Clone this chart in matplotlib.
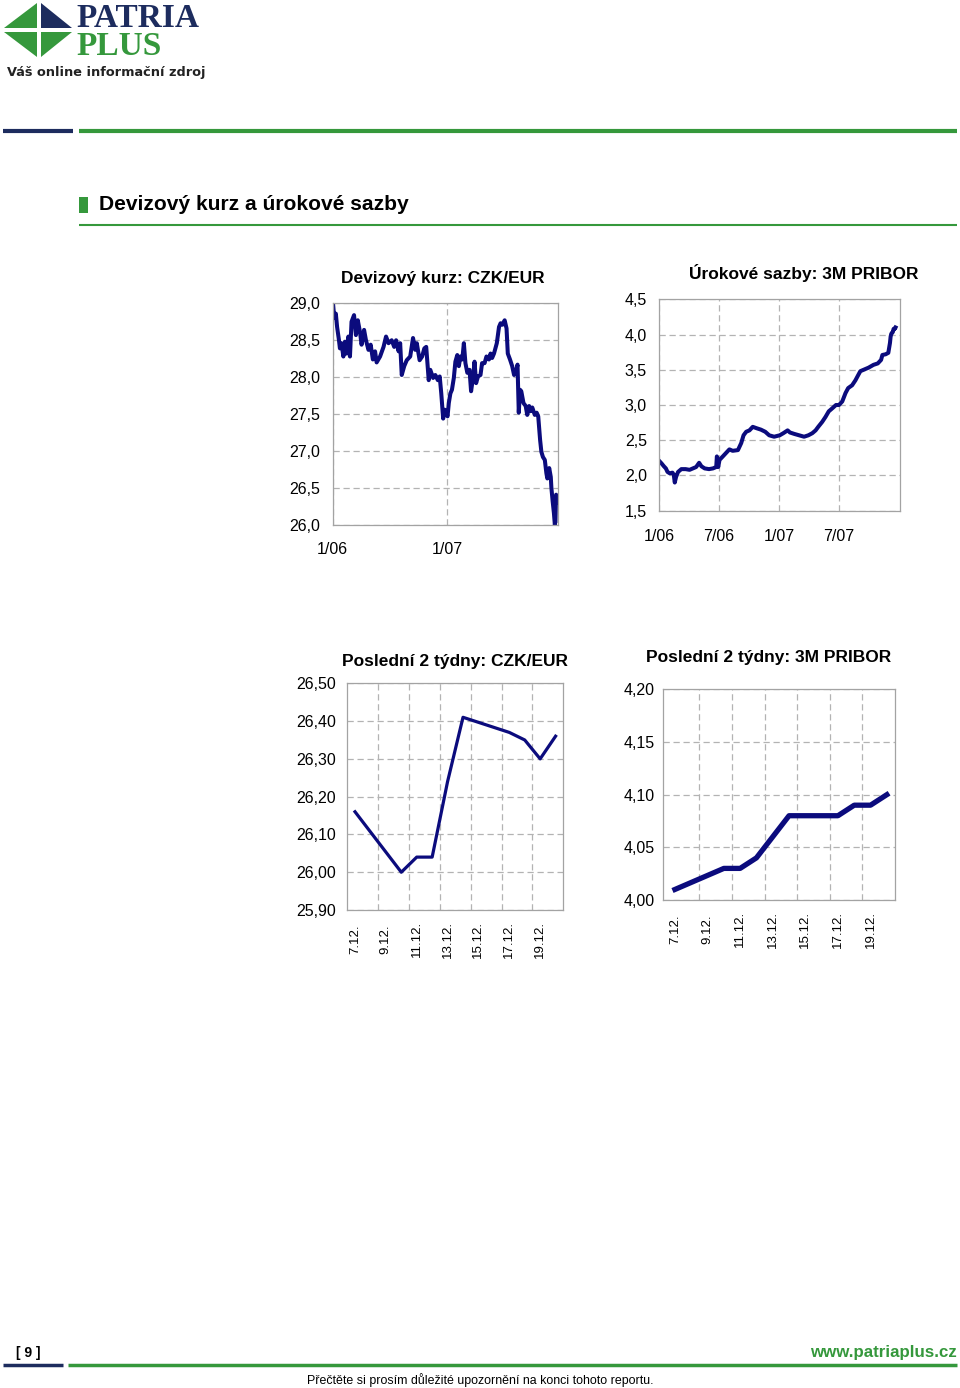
import matplotlib
matplotlib.use('Agg')
import matplotlib.pyplot as plt
from matplotlib.patches import Polygon, Rectangle
from matplotlib.ticker import MultipleLocator, FixedLocator, FuncFormatter
import numpy as np
import pandas as pd

# --- data ---
czk_dates = ['2006-01-02', '2006-01-06', '2006-01-11', '2006-01-15', '2006-01-21', '2006-01-24',
             '2006-01-29', '2006-02-04', '2006-02-09', '2006-02-14', '2006-02-20', '2006-02-25',
             '2006-03-02', '2006-03-10', '2006-03-16', '2006-03-22', '2006-03-29', '2006-04-03',
             '2006-04-11', '2006-04-17', '2006-04-25', '2006-05-02', '2006-05-09', '2006-05-16',
             '2006-05-21', '2006-06-01', '2006-06-12', '2006-06-20', '2006-06-28', '2006-07-08',
             '2006-07-16', '2006-07-22', '2006-07-30', '2006-08-04', '2006-08-09', '2006-08-17',
             '2006-08-25', '2006-09-05', '2006-09-14', '2006-09-21', '2006-09-26', '2006-10-05',
             '2006-10-13', '2006-10-20', '2006-10-26', '2006-11-03', '2006-11-08', '2006-11-17',
             '2006-11-24', '2006-12-02', '2006-12-08', '2006-12-13', '2006-12-19', '2006-12-24',
             '2007-01-02', '2007-01-06', '2007-01-11', '2007-01-16', '2007-01-22', '2007-01-27',
             '2007-02-02', '2007-02-07', '2007-02-12', '2007-02-18', '2007-02-23', '2007-02-28',
             '2007-03-06', '2007-03-13', '2007-03-18', '2007-03-24', '2007-03-29', '2007-04-03',
             '2007-04-09', '2007-04-17', '2007-04-22', '2007-04-30', '2007-05-06', '2007-05-14',
             '2007-05-19', '2007-05-24', '2007-05-30', '2007-06-08', '2007-06-15', '2007-06-20',
             '2007-06-26', '2007-07-03', '2007-07-09', '2007-07-13', '2007-07-20', '2007-07-27',
             '2007-08-02', '2007-08-07', '2007-08-13', '2007-08-17', '2007-08-21', '2007-08-25',
             '2007-09-01', '2007-09-08', '2007-09-13', '2007-09-19', '2007-09-24', '2007-09-29',
             '2007-10-07', '2007-10-13', '2007-10-18', '2007-10-24', '2007-10-28', '2007-11-02',
             '2007-11-08', '2007-11-13', '2007-11-16', '2007-11-22', '2007-11-27', '2007-11-29',
             '2007-12-03']
czk_vals = [29.00, 28.80, 28.86, 28.68, 28.50, 28.39,
            28.46, 28.28, 28.48, 28.32, 28.55, 28.28,
            28.75, 28.84, 28.57, 28.77, 28.61, 28.44,
            28.64, 28.50, 28.37, 28.44, 28.24, 28.35,
            28.20, 28.28, 28.41, 28.55, 28.46, 28.50,
            28.41, 28.50, 28.35, 28.46, 28.03, 28.15,
            28.23, 28.28, 28.53, 28.37, 28.46, 28.23,
            28.28, 28.39, 28.41, 27.96, 28.10, 27.99,
            28.03, 27.96, 28.01, 27.78, 27.44, 27.56,
            27.47, 27.65, 27.78, 27.83, 27.99, 28.21,
            28.30, 28.15, 28.28, 28.24, 28.46, 28.19,
            28.06, 28.10, 27.81, 27.99, 28.21, 27.92,
            28.01, 28.03, 28.19, 28.19, 28.28, 28.24,
            28.32, 28.26, 28.32, 28.46, 28.68, 28.73,
            28.71, 28.77, 28.66, 28.32, 28.24, 28.15,
            28.03, 28.06, 28.17, 27.52, 27.83, 27.81,
            27.65, 27.61, 27.49, 27.61, 27.54, 27.59,
            27.49, 27.52, 27.47, 27.15, 26.99, 26.92,
            26.88, 26.70, 26.63, 26.77, 26.65, 26.50,
            26.32]

pribor_dates = ['2006-01-02', '2006-01-08', '2006-01-15', '2006-01-21', '2006-01-26', '2006-02-02',
                '2006-02-10', '2006-02-14', '2006-02-17', '2006-02-21', '2006-02-27', '2006-03-09',
                '2006-03-22', '2006-04-03', '2006-04-13', '2006-04-23', '2006-05-02', '2006-05-09',
                '2006-05-19', '2006-06-01', '2006-06-13', '2006-06-23', '2006-06-25', '2006-06-29',
                '2006-07-03', '2006-07-13', '2006-07-23', '2006-08-02', '2006-08-12', '2006-08-28',
                '2006-09-07', '2006-09-14', '2006-09-22', '2006-10-02', '2006-10-12', '2006-10-24',
                '2006-11-06', '2006-11-19', '2006-12-01', '2006-12-16', '2007-01-02', '2007-01-13',
                '2007-01-26', '2007-02-02', '2007-02-15', '2007-03-02', '2007-03-17', '2007-03-30',
                '2007-04-11', '2007-04-21', '2007-04-29', '2007-05-11', '2007-05-21', '2007-05-31',
                '2007-06-10', '2007-06-22', '2007-07-01', '2007-07-11', '2007-07-21', '2007-07-29',
                '2007-08-10', '2007-08-20', '2007-08-28', '2007-09-04', '2007-09-14', '2007-09-29',
                '2007-10-14', '2007-10-27', '2007-11-06', '2007-11-10', '2007-11-20', '2007-11-28',
                '2007-12-03', '2007-12-05']
pribor_vals = [2.20, 2.17, 2.13, 2.10, 2.05, 2.03,
               2.04, 2.01, 1.90, 1.98, 2.05, 2.09,
               2.09, 2.08, 2.10, 2.12, 2.18, 2.13,
               2.10, 2.09, 2.10, 2.12, 2.27, 2.12,
               2.22, 2.27, 2.32, 2.37, 2.35, 2.36,
               2.46, 2.57, 2.62, 2.64, 2.69, 2.67,
               2.65, 2.62, 2.57, 2.55, 2.57, 2.60,
               2.64, 2.61, 2.59, 2.57, 2.55, 2.57,
               2.60, 2.64, 2.69, 2.76, 2.83, 2.91,
               2.95, 3.00, 3.00, 3.05, 3.17, 3.24,
               3.28, 3.35, 3.42, 3.48, 3.50, 3.53,
               3.57, 3.59, 3.64, 3.71, 3.72, 3.74,
               3.88, 3.97]

# last two weeks (December 2007)
tw_days = [7, 10, 11, 12, 13, 14, 17, 18, 19, 20]
tw_czk = [26.16, 26.00, 26.04, 26.04, 26.24, 26.41, 26.37, 26.35, 26.30, 26.36]
tw_pribor = [4.01, 4.03, 4.03, 4.04, 4.06, 4.08, 4.08, 4.09, 4.09, 4.10]
tw_tick_days = [7, 9, 11, 13, 15, 17, 19]
tw_tick_labels = ['7.12.', '9.12.', '11.12.', '13.12.', '15.12.', '17.12.', '19.12.']

long_ticks_czk = ['2006-01-01', '2007-01-01']
long_labels_czk = ['1/06', '1/07']
long_ticks_pribor = ['2006-01-01', '2006-07-01', '2007-01-01', '2007-07-01']
long_labels_pribor = ['1/06', '7/06', '1/07', '7/07']

# --- styling ---
NAVY = '#1d2c5e'
GREEN = '#35983c'
LINE = '#0b0b7d'
GRID = '#b3b3b3'
SPINE = '#a3a3a3'

plt.rcParams['font.family'] = ['Liberation Sans', 'DejaVu Sans']
W, H = 960, 1388
fig = plt.figure(figsize=(9.6, 13.88), dpi=100)


def box(x0, y0, x1, y1):
    return [x0 / W, 1 - y1 / H, (x1 - x0) / W, (y1 - y0) / H]


def comma(fmt):
    return FuncFormatter(lambda v, _: format(v, fmt).replace('.', ','))


# page decoration in pixel coordinates
bg = fig.add_axes([0, 0, 1, 1])
bg.set_xlim(0, W)
bg.set_ylim(H, 0)
bg.axis('off')

# logo star
for pts, col in [([(37, 3), (37, 28), (4, 28)], GREEN),
                 ([(41, 3), (41, 28), (72, 28)], NAVY),
                 ([(37, 32), (4, 32), (37, 57)], GREEN),
                 ([(41, 32), (72, 32), (41, 57)], GREEN)]:
    bg.add_patch(Polygon(pts, closed=True, color=col, lw=0))
bg.text(76, 27, 'PATRIA', family='Liberation Serif', fontsize=24, fontweight='bold',
        color=NAVY, va='baseline')
bg.text(76, 55, 'PLUS', family='Liberation Serif', fontsize=24, fontweight='bold',
        color=GREEN, va='baseline')
bg.text(7, 76, 'Váš online informační zdroj', family='DejaVu Sans', fontsize=9.3,
        fontweight='bold', color='#222222', va='baseline')

bg.plot([3, 73], [131, 131], color=NAVY, lw=3, solid_capstyle='butt')
bg.plot([79, 957], [131, 131], color=GREEN, lw=3, solid_capstyle='butt')

# section header
bg.add_patch(Rectangle((79, 197), 9, 16, color=GREEN, lw=0))
bg.text(99, 209.5, 'Devizový kurz a úrokové sazby', fontsize=15.1, fontweight='bold', va='baseline')
bg.plot([79, 957], [225, 225], color=GREEN, lw=1.5, solid_capstyle='butt')

# footer
bg.text(16, 1357, '[ 9 ]', fontsize=10, fontweight='bold', va='baseline')
bg.text(957, 1357, 'www.patriaplus.cz', fontsize=12.2, fontweight='bold', color=GREEN,
        ha='right', va='baseline')
bg.plot([3, 63], [1365, 1365], color=NAVY, lw=2.5, solid_capstyle='butt')
bg.plot([68, 957], [1365, 1365], color=GREEN, lw=2.5, solid_capstyle='butt')
bg.text(480, 1380, 'Přečtěte si prosím důležité upozornění na konci tohoto reportu.',
        fontsize=8.9, ha='center', va='center')

# chart titles
for x, y, t in [(443, 278, 'Devizový kurz: CZK/EUR'), (804, 273, 'Úrokové sazby: 3M PRIBOR'),
                (455, 661, 'Poslední 2 týdny: CZK/EUR'), (769, 657, 'Poslední 2 týdny: 3M PRIBOR')]:
    bg.text(x, y, t, fontsize=12.5, fontweight='bold', ha='center', va='center')


def style(ax):
    for s in ax.spines.values():
        s.set_color(SPINE)
        s.set_linewidth(0.9)
    ax.grid(True, axis='y', color=GRID, ls=(0, (5, 3)), lw=0.9)
    ax.tick_params(length=0, labelsize=11.5)


# top left: CZK/EUR long
ax1 = fig.add_axes(box(332.7, 303.3, 558, 525))
d = pd.to_datetime(czk_dates + ['2007-12-%02d' % x for x in tw_days])
ax1.plot(d, czk_vals + tw_czk, color=LINE, lw=2.9, solid_joinstyle='round')
ax1.set_xlim(d[0], d[-1])
ax1.set_ylim(26, 29)
ax1.yaxis.set_major_locator(MultipleLocator(0.5))
ax1.yaxis.set_major_formatter(comma('.1f'))
ax1.set_xticks(pd.to_datetime(long_ticks_czk), long_labels_czk)
style(ax1)
ax1.grid(True, axis='x', color=GRID, ls=(0, (5, 3)), lw=0.9)
ax1.tick_params(axis='y', pad=9)
ax1.tick_params(axis='x', pad=12)

# top right: PRIBOR long
ax2 = fig.add_axes(box(659.3, 299.3, 899.5, 510.7))
d = pd.to_datetime(pribor_dates + ['2007-12-%02d' % x for x in tw_days])
ax2.plot(d, pribor_vals + tw_pribor, color=LINE, lw=2.9, solid_joinstyle='round')
ax2.set_xlim(pd.Timestamp('2006-01-01'), pd.Timestamp('2008-01-01'))
ax2.set_ylim(1.5, 4.5)
ax2.yaxis.set_major_locator(MultipleLocator(0.5))
ax2.yaxis.set_major_formatter(comma('.1f'))
ax2.set_xticks(pd.to_datetime(long_ticks_pribor), long_labels_pribor)
style(ax2)
ax2.grid(True, axis='x', color=GRID, ls=(0, (5, 3)), lw=0.9)
ax2.tick_params(axis='y', pad=9)
ax2.tick_params(axis='x', pad=13)

# bottom left: last two weeks CZK/EUR
ax3 = fig.add_axes(box(347.3, 683.3, 563.3, 910))
ax3.plot(tw_days, tw_czk, color=LINE, lw=2.3)
ax3.set_xlim(6.5, 20.5)
ax3.set_ylim(25.9, 26.5)
ax3.yaxis.set_major_locator(MultipleLocator(0.1))
ax3.yaxis.set_major_formatter(comma('.2f'))

# bottom right: last two weeks PRIBOR
ax4 = fig.add_axes(box(662.7, 689.3, 895, 900))
ax4.plot(tw_days, tw_pribor, color=LINE, lw=3.8)
ax4.set_xlim(6.25, 20.5)
ax4.set_ylim(4.0, 4.2)
ax4.yaxis.set_major_locator(MultipleLocator(0.05))
ax4.yaxis.set_major_formatter(comma('.2f'))

for ax, ypad in [(ax3, 8), (ax4, 5.5)]:
    style(ax)
    ax.set_xticks(tw_tick_days, tw_tick_labels, rotation=90, va='center', fontsize=9.5)
    ax.xaxis.set_minor_locator(FixedLocator(np.array(tw_tick_days[:-1]) + 1.5))
    ax.grid(True, which='minor', axis='x', color=GRID, ls=(0, (5, 3)), lw=0.9)
    ax.tick_params(which='minor', length=0)
    ax.tick_params(axis='x', pad=21)
    ax.tick_params(axis='y', pad=ypad)

fig.savefig('out.png', dpi=100)
